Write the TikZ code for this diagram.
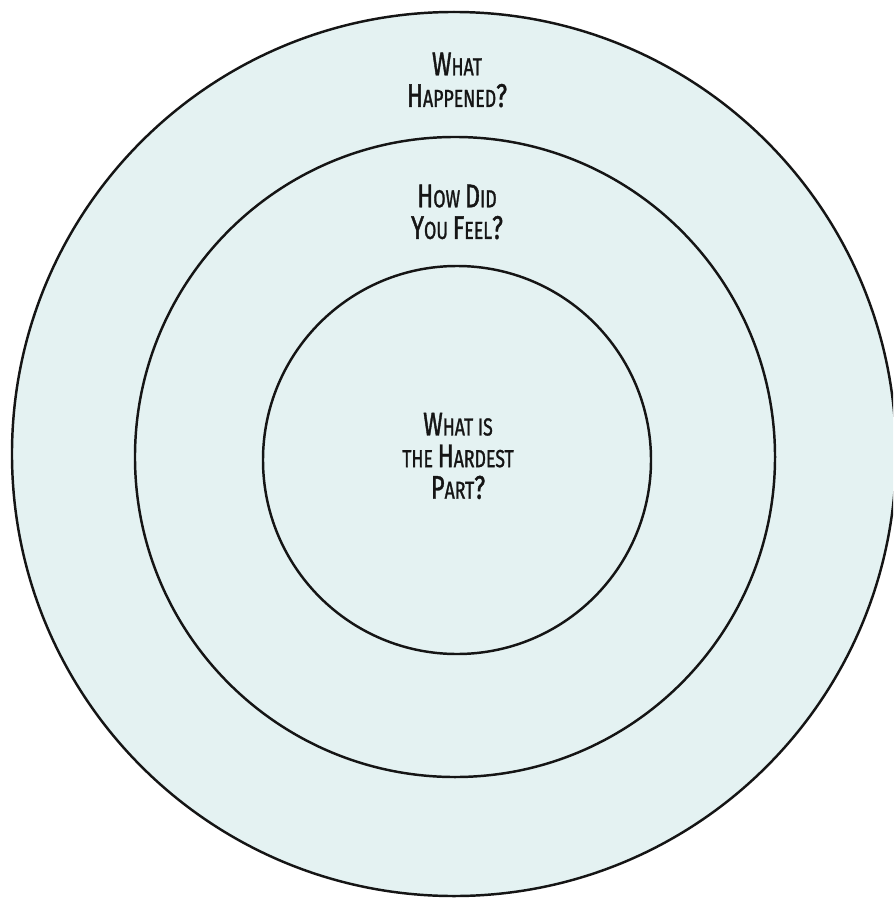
\documentclass[tikz,border=0pt]{standalone}
\usepackage{fontspec}
\usepackage{tikz}
\usepackage{xcolor}
\usetikzlibrary{positioning}
\newfontfamily\handfont{Fira Sans}[FakeStretch=0.72, FakeBold=1.2]
\definecolor{ringink}{HTML}{151515}
\definecolor{ringfill}{HTML}{E4F2F2}
\newcommand\bigletter[1]{{\fontsize{28}{28}\selectfont #1}}
\tikzset{
  ring/.style={
    circle,
    draw=ringink,
    fill=ringfill,
    line width=2.1pt,
    inner sep=0pt
  },
  question/.style={
    align=center,
    text=ringink,
    inner sep=0pt,
    font=\handfont\fontsize{21}{27}\selectfont
  }
}

\begin{document}
\begin{tikzpicture}[x=0.03cm, y=-0.03cm]
\clip (0,0) rectangle (893,899);
\fill[white] (0,0) rectangle (893,899);

\node[ring, minimum size=26.52cm] (outer) at (454,454) {};
\node[ring, minimum size=19.2cm] (middle) at (455,457) {};
\node[ring, minimum size=11.64cm] (inner) at (457,460) {};

\node[question] (happened) at (457,80) {\bigletter{W}HAT\\\bigletter{H}APPENED\bigletter{?}};
\node[question] (feel) at (457,212) {\bigletter{H}OW \bigletter{D}ID\\\bigletter{Y}OU \bigletter{F}EEL\bigletter{?}};
\node[question] (hardest) at (458,456) {\bigletter{W}HAT IS\\THE \bigletter{H}ARDEST\\\bigletter{P}ART\bigletter{?}};
\end{tikzpicture}
\end{document}
